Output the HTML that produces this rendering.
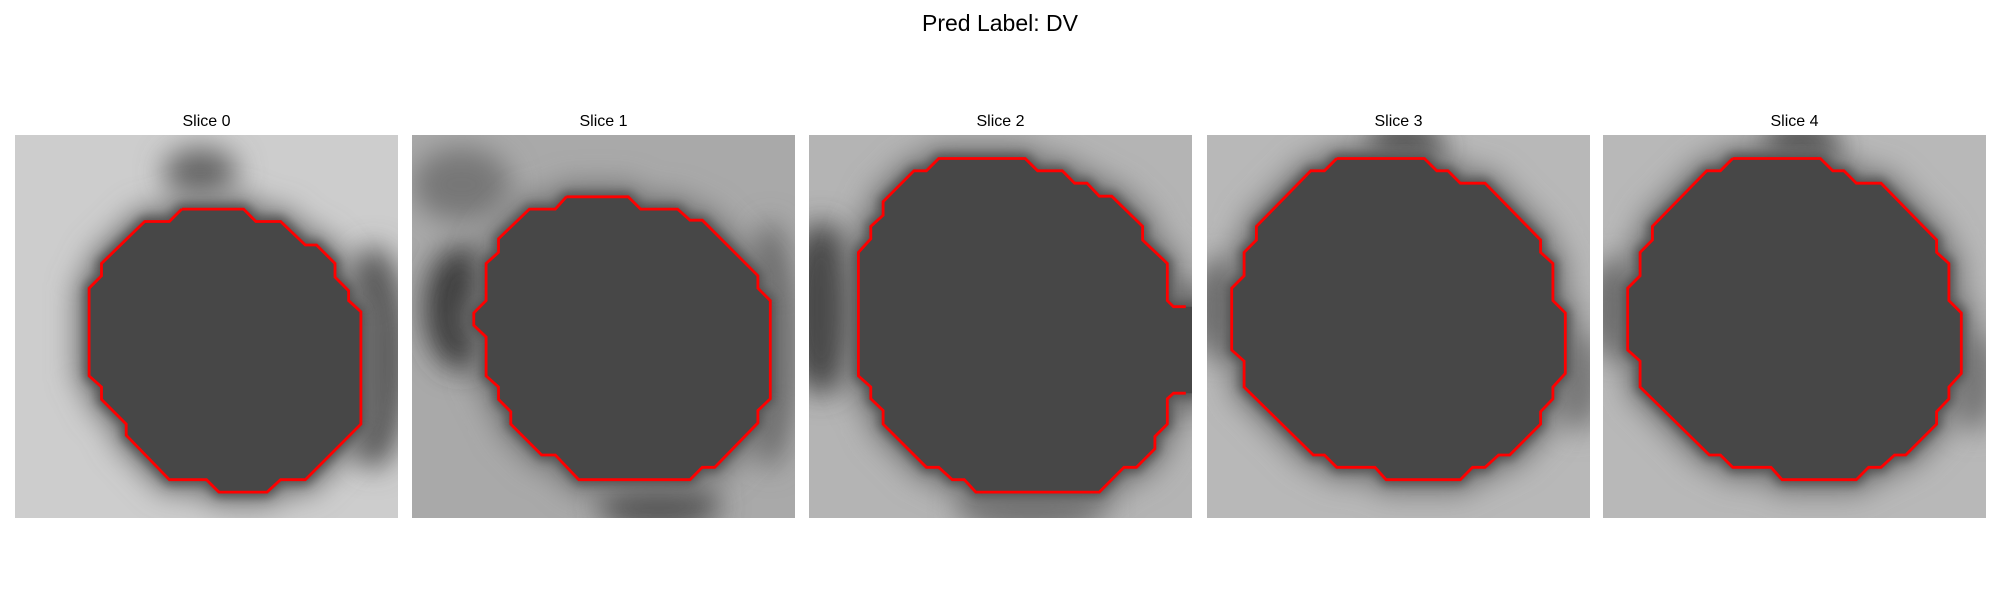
<!DOCTYPE html>
<html><head><meta charset="utf-8"><style>
html,body{margin:0;padding:0;background:#fff;}
svg{display:block;font-family:"Liberation Sans","DejaVu Sans",sans-serif;}
</style></head><body>
<svg id="fig" width="2000" height="600" viewBox="0 0 2000 600" xmlns="http://www.w3.org/2000/svg">
<defs>
<filter id="blur1" x="-20%" y="-20%" width="140%" height="140%"><feGaussianBlur stdDeviation="14"/></filter>
<filter id="blur2" x="-20%" y="-20%" width="140%" height="140%"><feGaussianBlur stdDeviation="5"/></filter>
</defs>
<text x="1000" y="31" text-anchor="middle" font-size="23" fill="#000">Pred Label: DV</text>
</svg>
<script>
// Slice titles
const sliceTitles = ["Slice 0","Slice 1","Slice 2","Slice 3","Slice 4"];
// Contours in pixel-grid units (31x31 image)
const contour0 = [[13.5,6],[18.5,6],[19.5,7],[21.5,7],[23.5,8.9],[24.4,8.9],[25.9,10.4],[25.9,11.5],[27,12.6],[27,13.4],[28,14.3],[28,23.4],[23.5,27.9],[21.5,27.9],[20.4,28.9],[16.5,28.9],[15.5,27.9],[12.5,27.9],[9,24.3],[9,23.4],[7,21.4],[7,20.4],[6,19.5],[6,12.4],[7,11.4],[7,10.4],[10.5,7],[12.5,7],[13.5,6]];
const contour1 = [[12.5,5],[17.5,5],[18.5,6],[21.5,6],[22.5,6.9],[23.5,6.9],[28,11.4],[28,12.4],[29,13.4],[29,21.35],[28,22.3],[28,23.3],[24.5,26.9],[23.5,26.9],[22.5,27.9],[13.5,27.9],[11.6,25.9],[10.5,25.9],[8,23.4],[8,22.4],[7,21.4],[7,20.4],[6,19.5],[6,16.35],[5,15.4],[5,14.4],[6,13.4],[6,10.4],[7,9.5],[7,8.4],[9.5,6],[11.6,6],[12.5,5]];
const contour2 = [[30.5,13.9],[29.5,13.9],[29,13.4],[29,10.4],[27,8.5],[27,7.4],[24.5,4.95],[23.5,4.95],[22.5,3.9],[21.5,3.9],[20.5,2.9],[18.5,2.9],[17.5,1.9],[10.5,1.9],[9.5,2.9],[8.5,2.9],[6,5.4],[6,6.5],[5,7.4],[5,8.4],[4,9.5],[4,19.5],[5,20.4],[5,21.35],[6,22.3],[6,23.4],[9.5,26.9],[10.5,26.9],[11.6,27.9],[12.57,27.9],[13.5,28.9],[23.5,28.9],[25.5,26.9],[26.5,26.9],[28,25.4],[28,24.4],[29,23.4],[29,21.35],[29.5,20.9],[30.5,20.9]];
const contour3 = [[10.5,1.9],[17.6,1.9],[18.6,2.9],[19.5,2.9],[20.5,3.9],[22.5,3.9],[27,8.5],[27,9.5],[28,10.4],[28,13.4],[29,14.4],[29,19.3],[28,20.4],[28,21.35],[27,22.4],[27,23.4],[24.5,25.9],[23.6,25.9],[22.5,26.9],[21.5,26.9],[20.5,27.9],[14.5,27.9],[13.6,26.9],[10.5,26.9],[9.5,25.9],[8.6,25.9],[3,20.4],[3,18.3],[2,17.4],[2,12.4],[3,11.4],[3,9.5],[4,8.5],[4,7.4],[8.4,2.9],[9.5,2.9],[10.5,1.9]];
const contour4 = contour3;
const contours = [contour0,contour1,contour2,contour3,contour4];
// Background tones and extra dark regions [cx, cy, rx, ry, gray]
const bgTone = ["#cdcdcd","#a9a9a9","#b4b4b4","#b8b8b8","#b8b8b8"];
const darkSpots = [
  [[29,18,3,9,"#5a5a5a"],[15,3,3,2,"#666"]],
  [[4,14,3,5,"#3a3a3a"],[29,17,2,10,"#6a6a6a"],[4,4,4,3,"#777"],[20,30,5,2,"#555"]],
  [[1,14,3,7,"#4a4a4a"],[18,30,6,2,"#707070"],[30,17,2,5,"#4a4a4a"]],
  [[1,14,2,4,"#666"],[30,20,2,4,"#777"],[16,1,3,2,"#444"]],
  [[1,14,2,4,"#666"],[30,20,2,4,"#777"],[16,1,3,2,"#444"]]
];
const innerTone = "#474747";

const NS = "http://www.w3.org/2000/svg";
const svg = document.getElementById("fig");
const X0 = [15,412,809,1207,1603], Y0 = 135, SIZE = 383, N = 31, CELL = SIZE/N;
function mk(tag, attrs, parent){const e=document.createElementNS(NS,tag);for(const k in attrs)e.setAttribute(k,attrs[k]);(parent||svg).appendChild(e);return e;}
function sx(i,u){return X0[i]+u*CELL;}
function sy(v){return Y0+v*CELL;}
function pts(i,c){return c.map(p=>sx(i,p[0]).toFixed(1)+","+sy(p[1]).toFixed(1)).join(" ");}

for(let i=0;i<5;i++){
  const g = mk("g",{});
  
  
  const t = mk("text",{x:X0[i]+SIZE/2,y:126,"text-anchor":"middle","font-size":"16",fill:"#000"},g);
  t.textContent = sliceTitles[i];
  
  
  const clipId="clip"+i;
  const cp = mk("clipPath",{id:clipId},g);
  mk("rect",{x:X0[i],y:Y0,width:SIZE,height:SIZE},cp);
  const img = mk("g",{"clip-path":"url(#"+clipId+")"},g);
  
  
  mk("rect",{x:X0[i],y:Y0,width:SIZE,height:SIZE,fill:bgTone[i]},img);
  const dg = mk("g",{filter:"url(#blur1)"},img);
  darkSpots[i].forEach(s=>{
    mk("ellipse",{cx:sx(i,s[0]),cy:sy(s[1]),rx:s[2]*CELL,ry:s[3]*CELL,fill:s[4]},dg);
  });
  let c = contours[i];
  let closed = c;
  if(i===2){closed = c.concat([[31,20.9],[31,13.9]]);}
  // halo
  mk("polygon",{points:pts(i,closed),fill:"#777",stroke:"#777","stroke-width":CELL*2.2,"stroke-linejoin":"round",filter:"url(#blur1)"},img);
  mk("polygon",{points:pts(i,closed),fill:innerTone,stroke:"#555","stroke-width":CELL*0.8,filter:"url(#blur2)"},img);
  mk("polygon",{points:pts(i,closed),fill:innerTone},img);
  const line = mk("polyline",{points:pts(i,c),fill:"none",stroke:"#ff0000","stroke-width":"2.8","stroke-linejoin":"miter"},img);
  
  
}
</script>
</body></html>
